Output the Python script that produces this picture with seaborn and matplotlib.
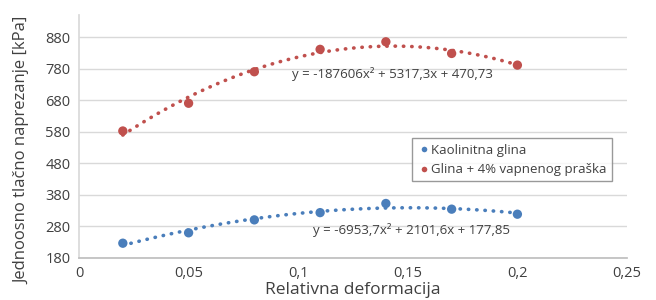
import numpy as np
import pandas as pd
import matplotlib
matplotlib.use('Agg')
import matplotlib.pyplot as plt
import seaborn as sns

# PODACI OČITANI S GRAFA
deformacija = [0.02, 0.05, 0.08, 0.11, 0.14, 0.17, 0.20]
kaolinit = [226, 259, 300, 323, 352, 334, 318]
glina_vapno = [582, 670, 770, 841, 865, 828, 791]

oznake_x = ['0', '0,05', '0,1', '0,15', '0,2', '0,25']
vrijednosti_x = [0, 0.05, 0.1, 0.15, 0.2, 0.25]
vrijednosti_y = [180, 280, 380, 480, 580, 680, 780, 880]

jednadzba_vapno = 'y = -187606x² + 5317,3x + 470,73'
jednadzba_kaolinit = 'y = -6953,7x² + 2101,6x + 177,85'

plava = '#4a7ebb'
crvena = '#c0504d'
siva = '#404040'

df = pd.DataFrame({
    'x': deformacija * 2,
    'y': kaolinit + glina_vapno,
    'serija': ['Kaolinitna glina'] * 7 + ['Glina + 4% vapnenog praška'] * 7,
})

sns.set_theme(style='white')
plt.rcParams['font.family'] = ['Open Sans', 'DejaVu Sans']

fig = plt.figure(figsize=(6.56, 3.0), dpi=100)
ax = fig.add_axes([0.1204, 0.141, 0.8354, 0.809])

# POLINOMSKI TRENDOVI (2. stupanj) IZ PODATAKA
xs = np.linspace(0.02, 0.2, 100)
for vrijednosti, boja in [(kaolinit, plava), (glina_vapno, crvena)]:
    koef = np.polyfit(deformacija, vrijednosti, 2)
    sns.lineplot(x=xs, y=np.polyval(koef, xs), ax=ax, color=boja,
                 linewidth=2.6, linestyle=(0, (0.1, 2.2)), dash_capstyle='round',
                 legend=False, zorder=2)

sns.scatterplot(data=df, x='x', y='y', hue='serija', palette=[plava, crvena],
                s=45, edgecolor='none', ax=ax, zorder=3)

ax.set_xlim(0, 0.25)
ax.set_ylim(180, 950)
ax.set_xticks(vrijednosti_x)
ax.set_xticklabels(oznake_x)
ax.set_yticks(vrijednosti_y)
ax.tick_params(axis='both', length=0, labelsize=10.5, colors=siva, pad=6)
ax.yaxis.grid(True, color='#d9d9d9', linewidth=1)
for s in ['top', 'right']:
    ax.spines[s].set_visible(False)
ax.spines['left'].set_color('#d9d9d9')
ax.spines['bottom'].set_color('#bfbfbf')

ax.set_xlabel('Relativna deformacija', fontsize=12.5, color=siva, labelpad=1)
ax.set_ylabel('Jednoosno tlačno naprezanje [kPa]', fontsize=12, color=siva)
ax.yaxis.set_label_coords(-0.088, 0.444)

ax.text(0.0972, 763, jednadzba_vapno, fontsize=9.5, color=siva, va='center')
ax.text(0.1068, 268, jednadzba_kaolinit, fontsize=9.5, color=siva, va='center')

leg = ax.legend(loc='upper left', bbox_to_anchor=(0.607, 0.492), fontsize=9.5,
                frameon=True, fancybox=False, edgecolor='#808080', handletextpad=0.1,
                handlelength=1.0, borderpad=0.4, labelspacing=0.5, markerscale=0.6,
                borderaxespad=0)
leg.get_frame().set_linewidth(1.0)
for t in leg.get_texts():
    t.set_color(siva)

fig.savefig('out.png', dpi=100)
